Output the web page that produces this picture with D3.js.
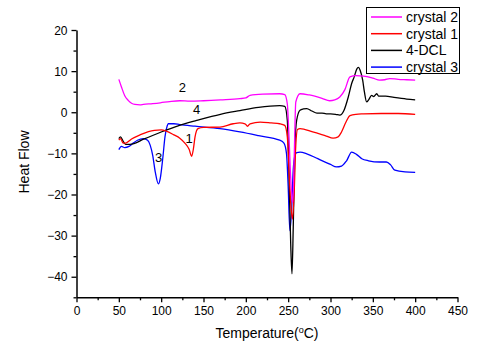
<!DOCTYPE html>
<html>
<head>
<meta charset="utf-8">
<script src="https://cdn.jsdelivr.net/npm/d3@7"></script>
<style>
  body { margin: 0; background: #fff; }
  svg { display: block; font-family: "Liberation Sans", Arial, sans-serif; }
</style>
</head>
<body>
<div id="chart"></div>
<script>
// DSC curves
var crystal2T = [50, 53, 57, 61, 65, 69, 75, 79, 90, 99, 110, 122, 134, 150, 170, 193, 200, 205, 220, 240, 246, 249, 251, 253, 255.5, 257, 259, 264, 275, 290, 299, 305, 311, 317, 323, 330, 339, 350, 358, 364, 370, 380, 390, 400];
var crystal2V = [8, 6.2, 4, 2.9, 2.2, 1.9, 1.8, 1.9, 2.1, 2.3, 2.6, 2.8, 2.7, 2.8, 3.0, 3.3, 3.5, 4.1, 4.4, 4.5, 4.3, 2, -6, -16, -22, -12, 2.5, 4.5, 4.2, 3.4, 2.8, 3.0, 3.7, 5.5, 8.6, 8.9, 8.8, 8.3, 7.8, 7.9, 8.2, 8.0, 7.9, 7.8];

var crystal1T = [50, 52, 55, 58, 65, 75, 85, 92, 100, 106, 115, 122, 128, 133, 136, 138, 140, 143.5, 150, 169.5, 185, 193, 199, 202, 205, 217, 230, 240, 246, 249, 251, 253, 255, 257, 259, 261, 264, 279, 295, 303, 309, 313, 318, 323, 330, 339, 360, 380, 400];
var crystal1V = [-6.8, -6.4, -7.5, -7.5, -6.5, -5.5, -4.7, -4.4, -4.3, -4.6, -5.5, -6.3, -7.5, -9, -10.7, -9, -6, -4.0, -3.7, -3.6, -2.8, -2.6, -2.8, -3.4, -2.8, -2.4, -2.6, -2.8, -3.2, -6, -14, -22, -26, -20, -8, -4.2, -4.0, -4.8, -5.8, -6.3, -6.0, -4.8, -2.5, -0.8, -0.5, -0.4, -0.3, -0.3, -0.5];

var dclT = [50, 52, 55, 58, 63, 80, 100, 120, 142, 170, 193, 215, 240, 246, 249, 251, 253, 254.5, 256, 258, 260, 264, 268, 272, 278, 284, 290, 295, 300, 306, 311, 316, 321, 325, 328, 331, 333, 335, 338, 340, 342.7, 345, 348.6, 351, 354.6, 357, 360, 365, 375, 390, 400];
var dclV = [-6.4, -6.0, -7.0, -7.8, -7.8, -6.5, -4.8, -3.3, -2.0, -0.5, 0.4, 1.2, 1.6, 1.4, -2, -15, -32, -39.3, -28, -8, -2, 0.5, 0.8, 0.9, 0.3, -0.2, -0.2, -0.4, -0.4, -0.5, -0.7, 0.5, 3.7, 7, 8.6, 10.5, 10.9, 10.2, 7.8, 5, 2.5, 3.0, 4.1, 3.8, 4.5, 3.9, 3.9, 3.9, 3.6, 3.2, 3.0];

var crystal3T = [50, 53, 57, 62, 67, 72, 79, 84, 87, 90, 93, 96.7, 99, 102, 104.5, 106.5, 108.5, 115, 122, 140, 169.5, 193, 215, 240, 245, 248, 250, 252, 254, 256, 258, 260, 264, 272, 285, 300, 307, 313, 319, 325, 331, 337, 345, 358, 366, 371, 376, 388, 400];
var crystal3V = [-9.1, -8.3, -8.6, -8.3, -7.5, -6.8, -6.4, -6.8, -8, -10.5, -14.5, -17.4, -16, -11, -6, -3.8, -2.8, -2.8, -3.0, -3.4, -4.0, -4.8, -5.7, -6.8, -7.5, -10, -18, -28.8, -24, -14, -10.5, -9.8, -9.7, -10.1, -11.3, -12.7, -13.3, -13.1, -11.8, -9.7, -10.3, -11.3, -11.8, -12.1, -12.1, -12.8, -14.1, -14.5, -14.6];

var seriesNames = ["crystal 2", "crystal 1", "4-DCL", "crystal 3"];
var seriesColors = ["#ff00ff", "#ff0000", "#000000", "#0000ff"];

var xTicks = [0, 50, 100, 150, 200, 250, 300, 350, 400, 450];
var yTicks = [-40, -30, -20, -10, 0, 10, 20];

// peak labels
var peakText = ["2", "4", "1", "3"];
var peakT = [125, 142, 133, 97];
var peakV = [5.0, -0.5, -7.6, -12.0];

var width = 488, height = 352;

var svg = d3.select("#chart").append("svg")
    .attr("width", width)
    .attr("height", height);

var x = d3.scaleLinear().domain([0, 450]).range([76.5, 457.5]);
var y = d3.scaleLinear().domain([-45, 20]).range([297.3, 30]);

// axes: major + minor ticks
var xMinor = d3.range(25, 450, 50);
var yMinor = d3.range(-45, 20, 10);

svg.append("g")
    .attr("transform", "translate(0," + y(-45) + ")")
    .call(d3.axisBottom(x).tickValues(xMinor).tickSize(3).tickFormat(""))
    .call(g => g.select(".domain").remove())
    .call(g => g.selectAll("line").attr("stroke-width", 1.3));

svg.append("g")
    .attr("transform", "translate(" + x(0) + ",0)")
    .call(d3.axisLeft(y).tickValues(yMinor).tickSize(3).tickFormat(""))
    .call(g => g.select(".domain").remove())
    .call(g => g.selectAll("line").attr("stroke-width", 1.3));

var xAxis = svg.append("g")
    .attr("transform", "translate(0," + y(-45) + ")")
    .call(d3.axisBottom(x).tickValues(xTicks).tickSize(5).tickSizeOuter(0).tickPadding(4));
xAxis.selectAll("text").attr("font-size", 12).attr("fill", "#000").attr("font-family", "Liberation Sans, Arial, sans-serif");

var yAxis = svg.append("g")
    .attr("transform", "translate(" + x(0) + ",0)")
    .call(d3.axisLeft(y).tickValues(yTicks).tickSize(5).tickSizeOuter(0).tickPadding(4));
yAxis.selectAll("text").attr("font-size", 12).attr("fill", "#000").attr("dy", "0.35em").attr("font-family", "Liberation Sans, Arial, sans-serif");

[xAxis, yAxis].forEach(function(g) {
    g.select(".domain").attr("stroke-width", 1.5);
    g.selectAll(".tick line").attr("stroke-width", 1.3);
});

// curves
var line = d3.line()
    .x(d => x(d[0]))
    .y(d => y(d[1]))
    .curve(d3.curveMonotoneX);

var curves = [
    d3.zip(crystal3T, crystal3V),
    d3.zip(dclT, dclV),
    d3.zip(crystal1T, crystal1V),
    d3.zip(crystal2T, crystal2V)
];
var curveColors = [seriesColors[3], seriesColors[2], seriesColors[1], seriesColors[0]];

svg.append("g")
    .selectAll("path")
    .data(curves)
    .join("path")
    .attr("d", line)
    .attr("fill", "none")
    .attr("stroke", (d, i) => curveColors[i])
    .attr("stroke-width", 1.3)
    .attr("stroke-linejoin", "round");

// peak numbers
svg.append("g")
    .selectAll("text")
    .data(peakText)
    .join("text")
    .attr("x", (d, i) => x(peakT[i]))
    .attr("y", (d, i) => y(peakV[i]))
    .attr("text-anchor", "middle")
    .attr("font-size", 13)
    .text(d => d);

// axis titles
svg.append("text")
    .attr("x", 267)
    .attr("y", 338)
    .attr("text-anchor", "middle")
    .attr("font-size", 14)
    .html('Temperature(<tspan baseline-shift="super" font-size="9">o</tspan>C)');

svg.append("text")
    .attr("transform", "translate(29,162) rotate(-90)")
    .attr("text-anchor", "middle")
    .attr("font-size", 14)
    .text("Heat Flow");

// legend
var legend = svg.append("g");
legend.append("rect")
    .attr("x", 366.5).attr("y", 7.5)
    .attr("width", 93).attr("height", 66)
    .attr("fill", "#fff")
    .attr("stroke", "#000")
    .attr("stroke-width", 1);

var rows = legend.selectAll("g.row")
    .data(seriesNames)
    .join("g")
    .attr("class", "row")
    .attr("transform", (d, i) => "translate(0," + (17 + i * 16.7) + ")");

rows.append("line")
    .attr("x1", 371).attr("x2", 402)
    .attr("stroke", (d, i) => seriesColors[i])
    .attr("stroke-width", 1.5);

rows.append("text")
    .attr("x", 406)
    .attr("dy", "0.35em")
    .attr("font-size", 14)
    .text(d => d);
</script>
</body>
</html>
